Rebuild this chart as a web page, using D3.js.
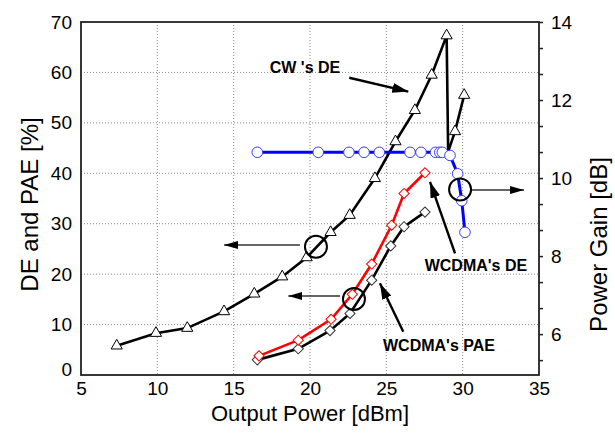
<!DOCTYPE html>
<html>
<head>
<meta charset="utf-8">
<script src="https://cdn.jsdelivr.net/npm/d3@7"></script>
<style>
  body { margin: 0; background: #fff; }
  svg { display: block; font-family: "Liberation Sans", Arial, sans-serif; }
</style>
</head>
<body>
<svg id="chart" width="615" height="437"></svg>
<script>
// CW drain efficiency (triangles), left axis
const cwPout = [7.34, 9.91, 11.96, 14.37, 16.35, 18.18, 19.78, 21.35, 22.6, 24.25, 25.6, 26.87, 27.97, 28.95, 29.05, 29.5, 30.1];
const cwDE = [5.8, 8.3, 9.3, 12.6, 16.1, 19.5, 23.3, 28.3, 31.7, 39.0, 46.3, 52.5, 59.5, 67.3, 44.3, 48.3, 55.5];
const cwHidden = [14]; // point under the gain marker, no symbol drawn

// WCDMA drain efficiency (red diamonds)
const wdePout = [16.66, 19.23, 21.38, 22.77, 24.04, 25.35, 26.16, 27.53];
const wdeDE = [3.8, 6.9, 11.05, 16.0, 22.0, 29.7, 36.0, 40.1];

// WCDMA PAE (black diamonds)
const paePout = [16.55, 19.23, 21.31, 22.62, 24.04, 25.29, 26.16, 27.53];
const paeVal = [3.0, 5.2, 8.8, 12.2, 18.8, 25.6, 29.4, 32.3];

// power gain (blue circles), right axis
const gainPout = [16.55, 20.54, 22.55, 23.54, 24.54, 26.55, 27.27, 28.22, 28.5, 28.67, 29.17, 29.67, 29.94, 30.15];
const gainDb = [10.66, 10.66, 10.66, 10.66, 10.66, 10.66, 10.66, 10.66, 10.66, 10.66, 10.58, 10.11, 9.42, 8.61];

const xTicks = [5, 10, 15, 20, 25, 30, 35];
const yTicks = [0, 10, 20, 30, 40, 50, 60, 70];
const gainTicks = d3.range(0, 14).map((k) => 14 - (k * 2) / 3);

const svg = d3.select("#chart");
const margin = { top: 22, right: 76, bottom: 62, left: 81 };
const width = 615 - margin.left - margin.right;
const height = 437 - margin.top - margin.bottom;

const x = d3.scaleLinear().domain([5, 35]).range([0, width]);
const y = d3.scaleLinear().domain([0, 70]).range([height, 0]);
const yG = d3.scaleLinear().domain([4.952, 14]).range([height, 0]);

const g = svg.append("g").attr("transform", `translate(${margin.left},${margin.top})`);

// dotted grid
const grid = g.append("g").attr("stroke", "#8c8c8c").attr("stroke-width", 1).attr("stroke-dasharray", "1,2");
grid.selectAll("line.v")
  .data(xTicks.slice(1, -1))
  .join("line")
  .attr("x1", (d) => x(d)).attr("x2", (d) => x(d))
  .attr("y1", 0).attr("y2", height);
grid.selectAll("line.h")
  .data(yTicks.slice(1, -1))
  .join("line")
  .attr("y1", (d) => y(d)).attr("y2", (d) => y(d))
  .attr("x1", 0).attr("x2", width);

// axes
const axisFont = (sel) => sel.selectAll("text").attr("font-size", 19).attr("fill", "#000");

g.append("g")
  .attr("transform", `translate(0,${height})`)
  .call(d3.axisBottom(x).tickValues(xTicks).tickSize(0).tickPadding(7))
  .call((s) => s.select(".domain").remove())
  .call(axisFont);

g.append("g")
  .call(d3.axisLeft(y).tickValues(yTicks).tickSize(0).tickPadding(9))
  .call((s) => s.select(".domain").remove())
  .call(axisFont)
  .call((s) => s.selectAll(".tick").filter((d) => d === 0).select("text").attr("dy", "0.05em"));

g.append("g")
  .attr("transform", `translate(${width},0)`)
  .call(
    d3.axisRight(yG)
      .tickValues(gainTicks)
      .tickSize(4)
      .tickPadding(8)
      .tickFormat((d) => {
        const r = Math.round(d);
        return Math.abs(d - r) < 0.01 && r % 2 === 0 ? String(r) : "";
      }),
  )
  .call((s) => s.select(".domain").remove())
  .call((s) => s.selectAll(".tick line").attr("stroke", "#222").attr("stroke-width", 1.5))
  .call(axisFont);

g.append("rect")
  .attr("width", width).attr("height", height)
  .attr("fill", "none").attr("stroke", "#222").attr("stroke-width", 1.8);

// axis titles
svg.append("text")
  .attr("x", margin.left + width / 2).attr("y", 421)
  .attr("text-anchor", "middle").attr("font-size", 22)
  .text("Output Power [dBm]");
svg.append("text")
  .attr("transform", `translate(38,${margin.top + height / 2 + 6}) rotate(-90)`)
  .attr("text-anchor", "middle").attr("font-size", 24)
  .text("DE and PAE [%]");
svg.append("text")
  .attr("transform", `translate(607,${margin.top + height / 2 + 46}) rotate(-90)`)
  .attr("text-anchor", "middle").attr("font-size", 24)
  .text("Power Gain [dB]");

// series
const line = d3.line().x((d) => x(d[0])).y((d) => d[1]);
const cwPts = cwPout.map((p, i) => [p, y(cwDE[i])]);
const paePts = paePout.map((p, i) => [p, y(paeVal[i])]);
const wdePts = wdePout.map((p, i) => [p, y(wdeDE[i])]);
const gainPts = gainPout.map((p, i) => [p, yG(gainDb[i])]);

const triangle = d3.symbol().type(d3.symbolTriangle).size(54)();
const diamond = d3.symbol().type(d3.symbolSquare).size(52)();

g.append("path").datum(cwPts).attr("d", line)
  .attr("fill", "none").attr("stroke", "#000").attr("stroke-width", 2.6);
g.append("g").selectAll("path")
  .data(cwPts.filter((_, i) => !cwHidden.includes(i)))
  .join("path")
  .attr("d", triangle)
  .attr("transform", (d) => `translate(${x(d[0])},${d[1]})`)
  .attr("fill", "#fff").attr("stroke", "#000").attr("stroke-width", 1);

g.append("path").datum(paePts).attr("d", line)
  .attr("fill", "none").attr("stroke", "#000").attr("stroke-width", 2.6);
g.append("g").selectAll("path")
  .data(paePts)
  .join("path")
  .attr("d", diamond)
  .attr("transform", (d) => `translate(${x(d[0])},${d[1]}) rotate(45)`)
  .attr("fill", "#fff").attr("stroke", "#333").attr("stroke-width", 1);

g.append("path").datum(wdePts).attr("d", line)
  .attr("fill", "none").attr("stroke", "#ff0000").attr("stroke-width", 2.6);
g.append("g").selectAll("path")
  .data(wdePts)
  .join("path")
  .attr("d", diamond)
  .attr("transform", (d) => `translate(${x(d[0])},${d[1]}) rotate(45)`)
  .attr("fill", "#fff").attr("stroke", "#ff0000").attr("stroke-width", 1);

g.append("path").datum(gainPts).attr("d", line)
  .attr("fill", "none").attr("stroke", "#0000ff").attr("stroke-width", 3);
g.append("g").selectAll("circle")
  .data(gainPts)
  .join("circle")
  .attr("cx", (d) => x(d[0])).attr("cy", (d) => d[1]).attr("r", 5.3)
  .attr("fill", "#fff").attr("stroke", "#3b3bff").attr("stroke-width", 1);

// annotations (data units on the left axis)
const defs = svg.append("defs");
function head(id, w, h) {
  defs.append("marker")
    .attr("id", id)
    .attr("viewBox", `0 0 ${w} ${h}`)
    .attr("refX", w).attr("refY", h / 2)
    .attr("markerWidth", w).attr("markerHeight", h)
    .attr("markerUnits", "userSpaceOnUse")
    .attr("orient", "auto")
    .append("path")
    .attr("d", `M0,0L${w},${h / 2}L0,${h}Z`)
    .attr("fill", "#000");
}
head("headThin", 14, 8);
head("headBold", 16, 10);

const arrows = [
  { from: [22.57, 58.95], to: [26.44, 56.2], w: 2.4, head: "headBold", color: "#000" },
  { from: [19.34, 25.78], to: [14.37, 25.78], w: 1.5, head: "headThin", color: "#333" },
  { from: [21.97, 15.67], to: [18.58, 15.67], w: 1.5, head: "headThin", color: "#333" },
  { from: [30.59, 36.68], to: [34.02, 36.68], w: 1.5, head: "headThin", color: "#333" },
  { from: [29.5, 24.1], to: [27.86, 38.3], w: 2.4, head: "headBold", color: "#000" },
  { from: [26.11, 8.59], to: [24.58, 18.18], w: 2.4, head: "headBold", color: "#000" },
];
g.append("g").selectAll("line")
  .data(arrows)
  .join("line")
  .attr("x1", (d) => x(d.from[0])).attr("y1", (d) => y(d.from[1]))
  .attr("x2", (d) => x(d.to[0])).attr("y2", (d) => y(d.to[1]))
  .attr("stroke", (d) => d.color).attr("stroke-width", (d) => d.w)
  .attr("marker-end", (d) => `url(#${d.head})`);

const rings = [[20.39, 25.44], [22.88, 15.07], [29.83, 36.8]];
g.append("g").selectAll("circle")
  .data(rings)
  .join("circle")
  .attr("cx", (d) => x(d[0])).attr("cy", (d) => y(d[1])).attr("r", 11)
  .attr("fill", "none").attr("stroke", "#000").attr("stroke-width", 2);

const labels = [
  { text: "CW 's DE", at: [19.67, 61.1] },
  { text: "WCDMA's DE", at: [30.87, 21.8] },
  { text: "WCDMA's PAE", at: [28.45, 5.95] },
];
g.append("g").selectAll("text")
  .data(labels)
  .join("text")
  .attr("x", (d) => x(d.at[0])).attr("y", (d) => y(d.at[1]))
  .attr("dy", "0.36em")
  .attr("text-anchor", "middle")
  .attr("font-size", 16).attr("font-weight", "bold")
  .text((d) => d.text);
</script>
</body>
</html>
